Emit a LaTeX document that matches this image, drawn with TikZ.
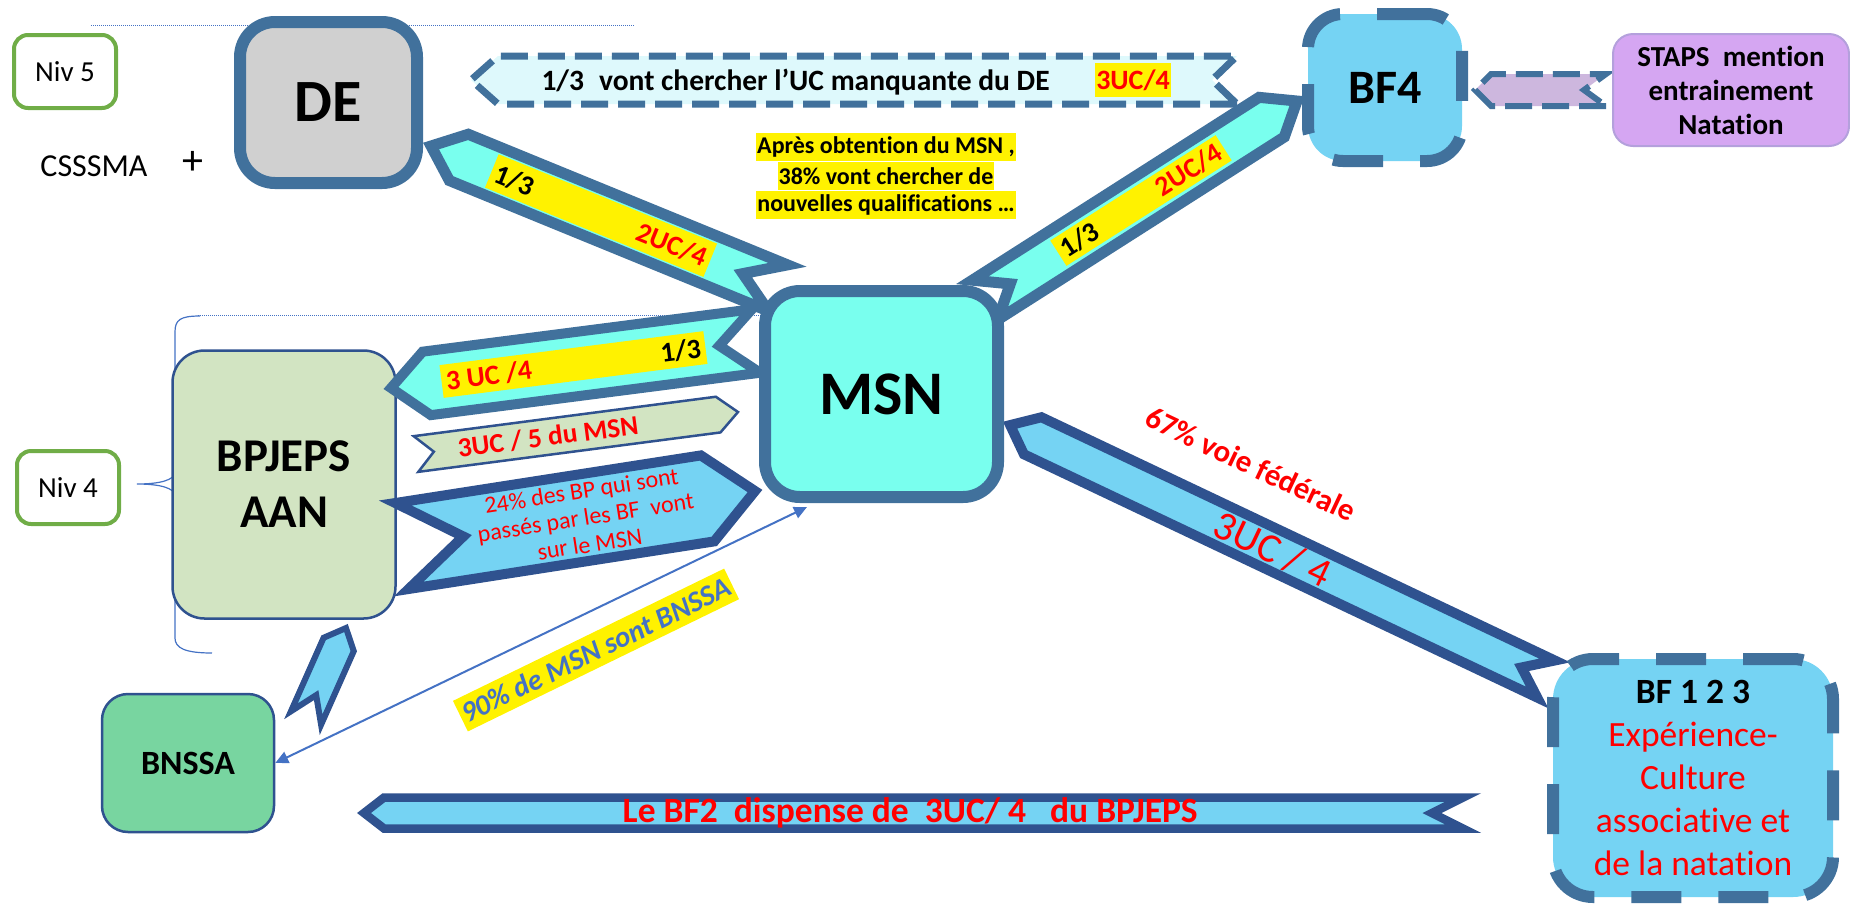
\documentclass[tikz,border=0pt]{standalone}
\usepackage{fontspec}
\setmainfont{Carlito}[Ligatures=NoCommon]
\usetikzlibrary{arrows.meta,positioning}

\definecolor{steel}{RGB}{65,113,156}
\definecolor{navy}{RGB}{47,82,143}
\definecolor{aqua}{RGB}{121,255,238}
\definecolor{sky}{RGB}{117,211,243}
\definecolor{greyfill}{RGB}{208,208,208}
\definecolor{sage}{RGB}{210,228,194}
\definecolor{mint}{RGB}{120,213,160}
\definecolor{lilac}{RGB}{213,166,242}
\definecolor{lilacline}{RGB}{180,160,220}
\definecolor{lilacarrow}{RGB}{205,183,222}
\definecolor{palecyan}{RGB}{222,249,252}
\definecolor{nivgreen}{RGB}{112,173,71}
\definecolor{labelblue}{RGB}{68,114,196}

\newcommand{\fsz}[2]{\fontsize{#1}{#2}\selectfont}

% chevron band: style, notched end, pointed end, half width, tip depth, notch depth
\newcommand{\ribbon}[6]{%
  \path (#2); \pgfgetlastxy{\rax}{\ray}%
  \path (#3); \pgfgetlastxy{\rbx}{\rby}%
  \pgfmathsetmacro{\rang}{atan2((\rby)-(\ray),(\rbx)-(\rax))}%
  \pgfmathsetmacro{\rlen}{veclen((\rbx)-(\rax),(\rby)-(\ray))}%
  \draw[#1, shift={(#2)}, rotate=\rang] (0,-#4) -- (\rlen-#5,-#4) -- (\rlen,0)
    -- (\rlen-#5,#4) -- (0,#4) -- (#6,0) -- cycle;}

\tikzset{
  blockbox/.style={rounded corners=35pt, line width=12pt, draw=steel, align=center},
  dashedbox/.style={blockbox, fill=sky, dash pattern=on 50pt off 37pt},
  softbox/.style={rounded corners=32pt, line width=2.5pt, draw=navy, align=center},
  nivbox/.style={rounded corners=14pt, line width=4pt, draw=nivgreen, fill=white,
    minimum width=102pt, minimum height=73pt, font=\fsz{29}{34}},
  ribsteel/.style={draw=steel, fill=aqua, line width=11pt, line join=miter},
  ribnavy/.style={draw=navy, fill=sky, line width=10pt, line join=miter},
  ribdash/.style={draw=steel, line width=7pt, dash pattern=on 27pt off 10pt, line join=miter},
  hilite/.style={fill=yellow, inner xsep=0pt, inner ysep=0pt, font=\bfseries\fsz{28}{33}},
  thinblue/.style={draw=labelblue, line width=1.2pt}
}

\begin{document}
\begin{tikzpicture}[x=1pt, y=-1pt]
    \useasboundingbox (0,0) rectangle (1850,906);

    % guide lines and brace
    \draw[thinblue, line width=1pt, dash pattern=on 1pt off 1pt] (91,25) -- (635,25);
    \draw[thinblue, line width=1pt, dash pattern=on 1pt off 1pt] (198,315) -- (765,315);
    \draw[thinblue] (200,316) .. controls (180,316) and (175,320) .. (175,332) -- (175,472)
        .. controls (175,480) and (160,484) .. (137,484)
        .. controls (160,484) and (175,488) .. (175,496) -- (175,638)
        .. controls (175,648) and (185,653) .. (212,653);

    % levels
    \node[nivbox] (niv5) at (65,71.5) {Niv 5};
    \node[nivbox] (niv4) at (68,487.5) {Niv 4};
    \node[font=\fsz{32}{38}] (csssma) at (94,166) {CSSSMA};
    \node[font=\fsz{42}{46}] (plus) at (193,163) {+};

    % left boxes
    \node[softbox, fill=sage, minimum width=223pt, minimum height=268pt,
        font=\bfseries\fsz{47}{56}] (bpjeps) at (284,484.5) {BPJEPS\\AAN};
    \node[softbox, fill=mint, rounded corners=26pt, minimum width=172pt, minimum height=138pt,
        font=\bfseries\fsz{34}{40}] (bnssa) at (188,763) {BNSSA};

    % band ends
    \coordinate (deTip) at (431,146);
    \coordinate (msnA) at (778,288);
    \coordinate (bf4Tip) at (1297,101);
    \coordinate (msnB) at (985,300);
    \coordinate (msnC) at (1010,425);
    \coordinate (bfC) at (1546,679);
    \coordinate (bpTip) at (391,388);
    \coordinate (msnD) at (756,341);
    \coordinate (bpE) at (416,454);
    \coordinate (msnE) at (738,412);
    \coordinate (bpF) at (402,546);
    \coordinate (msnF) at (755,491);
    \coordinate (bnG) at (306,718);
    \coordinate (bpG) at (346,628);
    \coordinate (deH) at (471,80);
    \coordinate (bf4H) at (1237,80);
    \coordinate (bf4I) at (1475,90);
    \coordinate (stI) at (1606,90);
    \coordinate (jTip) at (364,813);
    \coordinate (jEnd) at (1463,813);
    \coordinate (msnArr) at (807,507);

    % bands
    \ribbon{ribsteel}{msnA}{deTip}{25}{30}{38} % DE - MSN
    \ribbon{ribsteel}{msnB}{bf4Tip}{23.5}{30}{30} % MSN - BF4
    \ribbon{ribnavy}{bfC}{msnC}{20.5}{25}{27} % MSN - BF 1 2 3
    \ribbon{ribsteel, line width=10pt}{msnD}{bpTip}{32}{36}{37} % MSN - BPJEPS
    \ribbon{draw=navy, fill=sage, line width=2.5pt, line join=miter}{bpE}{msnE}{18}{20}{18} % BPJEPS - MSN
    \ribbon{ribnavy}{bpF}{msnF}{43.5}{48}{62} % BPJEPS - MSN (24%)
    \ribbon{ribnavy, line width=6pt}{bnG}{bpG}{16.5}{18}{25} % BNSSA - BPJEPS
    \ribbon{ribdash, fill=palecyan}{bf4H}{deH}{24}{27}{25} % BF4 - DE
    \ribbon{ribdash, line width=6pt, fill=lilacarrow}{stI}{bf4I}{16}{16}{22} % STAPS - BF4
    \ribbon{ribnavy, line width=8.5pt}{jEnd}{jTip}{15.5}{20}{31} % bottom band

    % main boxes
    \node[blockbox, fill=aqua, minimum width=233pt, minimum height=206pt,
        font=\bfseries\fsz{62}{70}] (msn) at (881.5,394) {MSN};
    \node[blockbox, fill=greyfill, minimum width=177pt, minimum height=161pt,
        font=\bfseries\fsz{60}{70}] (de) at (328.5,102.5) {DE};
    \node[dashedbox, minimum width=154pt, minimum height=147pt,
        font=\bfseries\fsz{48}{52}] (bf4) at (1385,87.5) {BF4};
    \node[dashedbox, rounded corners=40pt, minimum width=280pt, minimum height=238pt,
        text=red, font=\fsz{35.5}{43}] (bf123) at (1693,778)
        {\textbf{\textcolor{black}{BF 1 2 3}}\\Expérience-\\Culture\\associative et\\de la natation};
    \node[draw=lilacline, fill=lilac, line width=2pt, rounded corners=20pt, minimum width=236pt,
        minimum height=112pt, align=center, font=\bfseries\fsz{29}{34}] (staps) at (1731,90)
        {STAPS\ \ mention\\entrainement\\Natation};

    % MSN <-> BNSSA
    \draw[thinblue, line width=2pt, {Triangle[length=13pt,width=12pt]}-{Triangle[length=13pt,width=12pt]}]
        (bnssa.east) -- (msnArr);

    % band texts
    \path (msnA) -- (deTip) node[hilite, sloped, pos=0.51, minimum height=36pt] (de13)
        {\makebox[236pt]{\,1/3\hfill\textcolor{red}{2UC/4}\,}};
    \path (msnB) -- (bf4Tip) node[hilite, sloped, pos=0.5, minimum height=30pt] (bf413)
        {\makebox[196pt]{\,1/3\hfill\textcolor{red}{2UC/4}\,}};
    \path (msnD) -- (bpTip) node[hilite, sloped, pos=0.5, minimum height=33pt] (bp34)
        {\makebox[266pt]{\,\textcolor{red}{3 UC /4}\hfill 1/3\,}};
    \path (bpE) -- (msnE) node[sloped, pos=0.41, text=red, font=\bfseries\fsz{27.5}{32}] (uc5)
        {3UC / 5 du MSN};
    \path (bpF) -- (msnF) node[sloped, pos=0.52, text=red, align=center, font=\fsz{24}{27}] (bp24)
        {24\% des BP qui sont\\passés par les BF\ \ vont\\sur le MSN};
    \path (msnC) -- (bfC) node[sloped, pos=0.49, text=red, font=\fsz{41}{48}] (uc4) {3UC / 4};
    \path (jTip) -- (jEnd) node[pos=0.497, text=red, font=\bfseries\fsz{35.5}{40}] (bf2)
        {Le BF2\ \ dispense de\ \ 3UC/ 4\ \ \ du BPJEPS};

    % free labels
    \node[font=\bfseries\fsz{29.5}{34}, anchor=west] (vont) at (538,82)
        {1/3\hspace{15pt}vont chercher l’UC manquante du DE};
    \node[hilite, text=red, minimum height=34pt, inner xsep=1pt] (uc34) at (1133,80) {3UC/4};
    \node[hilite, inner xsep=1pt, minimum height=28.5pt, font=\bfseries\fsz{24}{28}] (apres1)
        at (886,147) {Après obtention du MSN ,};
    \node[hilite, inner xsep=1pt, minimum height=28.5pt, font=\bfseries\fsz{24}{28}] (apres2)
        [below=0pt of apres1] {38\% vont chercher de};
    \node[hilite, inner xsep=1pt, minimum height=28.5pt, font=\bfseries\fsz{24}{28}] (apres3)
        [below=0pt of apres2] {nouvelles qualifications …};
    \node[text=red, rotate=-25.3, font=\bfseries\fsz{31}{36}] (voie) at (1251,464) {67\% voie fédérale};
    \node[hilite, text=labelblue, rotate=26, minimum height=34pt, inner xsep=3pt,
        font=\bfseries\itshape\fsz{29}{34}] (pct90) at (596,650) {90\% de MSN sont BNSSA};

\end{tikzpicture}
\end{document}
